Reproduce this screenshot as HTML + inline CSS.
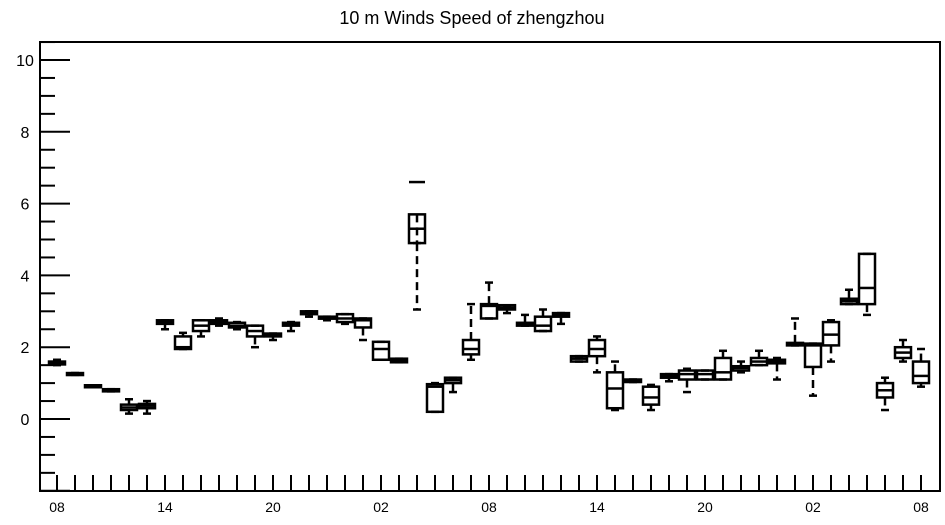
<!DOCTYPE html>
<html><head><meta charset="utf-8"><style>
body{margin:0;background:#fff;}
svg text{font-family:"Liberation Sans",sans-serif;}
</style></head><body>
<svg id="chart" width="945" height="520" xmlns="http://www.w3.org/2000/svg">
<text x="472" y="24" text-anchor="middle" font-size="18">10 m Winds Speed of zhengzhou</text>
<g id="axes"></g>
<g id="boxes"></g>
</svg>
<script>
const tickLabels=["08","14","20","02","08","14","20","02","08"];
const yTickLabels=[0,2,4,6,8,10];
const whiskLow=[1.5,1.23,0.9,0.77,0.15,0.15,2.5,1.95,2.3,2.6,2.5,2.0,2.2,2.45,2.85,2.75,2.65,2.2,1.65,1.58,3.05,0.2,0.75,1.65,2.8,2.95,2.6,2.45,2.65,1.6,1.3,0.25,1.03,0.25,1.05,0.75,1.1,1.1,1.3,1.5,1.1,2.05,0.65,1.6,3.2,2.9,0.25,1.6,0.9];
const boxLow=[1.52,1.23,0.9,0.77,0.25,0.3,2.65,1.95,2.45,2.65,2.55,2.3,2.3,2.6,2.92,2.8,2.7,2.55,1.65,1.58,4.9,0.2,1.0,1.8,2.8,3.05,2.6,2.45,2.85,1.6,1.75,0.3,1.03,0.4,1.15,1.1,1.1,1.1,1.35,1.5,1.55,2.05,1.45,2.05,3.2,3.2,0.6,1.7,1.0];
const medians=[1.56,1.25,0.92,0.8,0.32,0.37,2.7,2.0,2.6,2.7,2.6,2.45,2.34,2.64,2.96,2.82,2.8,2.75,1.95,1.63,5.3,0.9,1.08,1.95,3.15,3.1,2.64,2.6,2.9,1.68,1.95,0.85,1.07,0.6,1.2,1.25,1.25,1.3,1.42,1.6,1.6,2.09,2.05,2.35,3.28,3.65,0.8,1.85,1.2];
const boxHigh=[1.6,1.28,0.94,0.83,0.4,0.42,2.75,2.3,2.75,2.75,2.68,2.6,2.38,2.68,3.0,2.85,2.92,2.8,2.15,1.68,5.7,0.97,1.15,2.2,3.2,3.17,2.68,2.85,2.95,1.75,2.2,1.3,1.1,0.9,1.25,1.35,1.35,1.7,1.47,1.7,1.65,2.12,2.1,2.7,3.35,4.6,1.0,2.0,1.6];
const whiskHigh=[1.65,1.28,0.94,0.83,0.55,0.5,2.75,2.4,2.75,2.8,2.7,2.6,2.38,2.7,3.0,2.85,2.92,2.8,2.15,1.68,4.9,1.0,1.15,3.2,3.8,3.15,2.9,3.05,2.95,1.75,2.3,1.6,1.1,0.95,1.25,1.4,1.35,1.9,1.6,1.9,1.7,2.8,2.1,2.75,3.6,4.6,1.15,2.2,1.95];
const outliers=[[20,6.6]];
const NS="http://www.w3.org/2000/svg";
const L=40,R=940,T=42,B=491;
const xs=i=>57+18*i;
const ys=v=>419-35.9*v;
function mk(tag,attrs,parent){const e=document.createElementNS(NS,tag);for(const k in attrs)e.setAttribute(k,attrs[k]);parent.appendChild(e);return e;}
const ax=document.getElementById('axes');
const frame=mk('rect',{x:L,y:T,width:R-L,height:B-T,fill:'none',stroke:'#000','stroke-width':2},ax);


for(let v=-2;v<=10.5;v+=0.5){const y=ys(v);if(y<T||y>B)continue;const major=Math.abs(v%2)<1e-9;
 const t=mk('line',{x1:L,x2:L+(major?30:15),y1:y,y2:y,stroke:'#000','stroke-width':2},ax);
 
 }
yTickLabels.forEach(v=>{const t=mk('text',{x:25,y:ys(v)+6,'text-anchor':'middle','font-size':16},ax);t.textContent=v;
 
 });
for(let i=0;i<49;i++){const t=mk('line',{x1:xs(i),x2:xs(i),y1:B,y2:B-16,stroke:'#000','stroke-width':2},ax);
 
 }
tickLabels.forEach((s,k)=>{const t=mk('text',{x:xs(k*6),y:512,'text-anchor':'middle','font-size':14},ax);t.textContent=s;
 
 });
const bx=document.getElementById('boxes');
medians.forEach((m,i)=>{const x=xs(i),w=16;
 const g=mk('g',{},bx);
 
 
 const st={stroke:'#000','stroke-width':2.5,fill:'none'};
 mk('line',Object.assign({x1:x,x2:x,y1:ys(boxHigh[i]),y2:ys(whiskHigh[i]),'stroke-dasharray':'8,5'},st),g);
 mk('line',Object.assign({x1:x,x2:x,y1:ys(boxLow[i]),y2:ys(whiskLow[i]),'stroke-dasharray':'8,5'},st),g);
 mk('line',Object.assign({x1:x-4,x2:x+4,y1:ys(whiskHigh[i]),y2:ys(whiskHigh[i])},st),g);
 mk('line',Object.assign({x1:x-4,x2:x+4,y1:ys(whiskLow[i]),y2:ys(whiskLow[i])},st),g);
 const h=Math.max(ys(boxLow[i])-ys(boxHigh[i]),2);
 mk('rect',Object.assign({x:x-w/2,y:ys(boxHigh[i]),width:w,height:h},st),g);
 mk('line',Object.assign({x1:x-w/2,x2:x+w/2,y1:ys(m),y2:ys(m)},st),g);
});
outliers.forEach(([i,v])=>{const o=mk('line',{x1:xs(i)-8,x2:xs(i)+8,y1:ys(v),y2:ys(v),stroke:'#000','stroke-width':2.5},bx);
 
 });
</script>
</body></html>
